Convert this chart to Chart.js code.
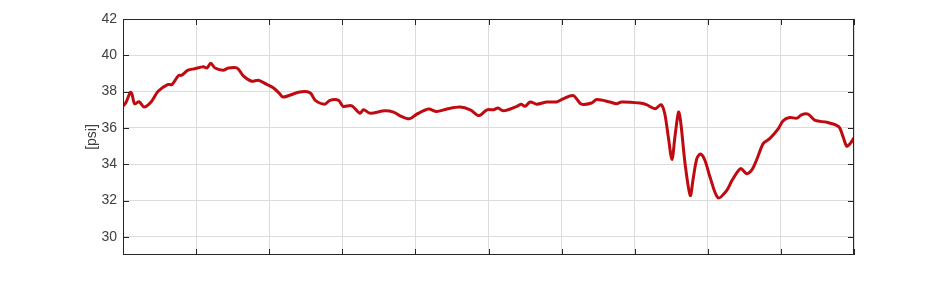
<!DOCTYPE html>
<html lang="en">
<head>
    <meta charset="UTF-8">
    <title>Pressure</title>
    <style>
        * { margin: 0; padding: 0; box-sizing: border-box; }
        body { background: #fff; width: 944px; height: 286px; overflow: hidden; }
        .chart-box { position: relative; width: 944px; height: 286px; }
    </style>
</head>
<body>
    <div class="chart-box">
        <canvas id="lineChart"></canvas>
    </div>

    <script src="https://cdn.jsdelivr.net/npm/chart.js"></script>

    <script>
        // Values (x in tenths of the axis, 0..100)
        const timeValues = [0, 0.4, 1.0, 1.2, 1.6, 2.2, 2.9, 3.9, 4.8, 6.1, 6.7, 7.6, 8.0, 8.9, 9.8, 11.0, 11.5, 12.0, 12.6, 13.7,
            14.4, 15.6, 16.5, 17.6, 18.5, 19.7, 20.6, 21.4, 21.9, 24.2, 25.6, 26.3, 27.6, 28.3, 29.5, 30.1, 31.3, 32.4, 32.9, 33.8,
            35.8, 37.0, 37.9, 39.2, 40.2, 41.8, 42.9, 44.3, 46.1, 47.5, 48.7, 49.8, 50.7, 51.3, 52.0, 53.9, 54.5, 55.0, 55.7, 56.6,
            58.0, 59.3, 60.2, 61.6, 62.7, 64.1, 64.8, 66.6, 67.5, 68.2, 70.7, 71.6, 72.8, 73.6, 74.1, 74.6, 75.1, 75.5, 76.0, 76.3,
            76.9, 77.6, 78.0, 78.5, 79.0, 79.6, 80.3, 81.4, 82.6, 83.3, 84.5, 85.3, 86.0, 86.7, 87.6, 88.5, 89.6, 90.3, 91.2, 92.2,
            92.8, 93.7, 94.7, 96.3, 97.9, 98.5, 99.0, 99.5, 100];
        const pressureValues = [37.2, 37.4, 37.96, 37.9, 37.33, 37.44, 37.15, 37.46, 38.02, 38.39, 38.39, 38.89, 38.9, 39.18, 39.26, 39.37, 39.3, 39.56, 39.3, 39.18,
            39.3, 39.3, 38.85, 38.57, 38.63, 38.39, 38.2, 37.9, 37.7, 37.98, 37.93, 37.52, 37.31, 37.52, 37.52, 37.19, 37.22, 36.81, 37.0, 36.81,
            36.94, 36.87, 36.67, 36.5, 36.76, 37.04, 36.9, 37.04, 37.15, 37.0, 36.68, 37.0, 37.0, 37.1, 36.94, 37.19, 37.31, 37.19, 37.43, 37.31,
            37.43, 37.43, 37.6, 37.78, 37.31, 37.37, 37.56, 37.43, 37.33, 37.43, 37.37, 37.28, 37.06, 37.28, 36.81, 35.5, 34.26, 35.5, 36.87, 36.3,
            34.0, 32.28, 33.2, 34.31, 34.56, 34.22, 33.3, 32.15, 32.56, 33.1, 33.76, 33.48, 33.67, 34.26, 35.15, 35.42, 35.93, 36.39, 36.57, 36.54,
            36.72, 36.76, 36.41, 36.31, 36.07, 35.52, 35.0, 35.15, 35.45];
        const yTickLabels = [30, 32, 34, 36, 38, 40, 42];
        const xGridValues = [0, 10, 20, 30, 40, 50, 60, 70, 80, 90, 100];

        const axisColor = '#262626';
        const fontFamily = '"Liberation Sans", Arial, sans-serif';

        // box around the plot with inward tick marks
        const boxPlugin = {
            id: 'box',
            afterDraw(chart) {
                const ctx = chart.ctx;
                const a = chart.chartArea;
                const xs = chart.scales.x;
                const ys = chart.scales.y;
                const len = 6;
                ctx.save();
                ctx.strokeStyle = axisColor;
                ctx.lineWidth = 1;
                ctx.strokeRect(a.left + 0.5, a.top + 0.5, a.right - a.left - 1, a.bottom - a.top - 1);
                ctx.beginPath();
                xGridValues.forEach(v => {
                    const px = Math.round(xs.getPixelForValue(v)) + 0.5;
                    ctx.moveTo(px, a.bottom);
                    ctx.lineTo(px, a.bottom - len);
                    ctx.moveTo(px, a.top);
                    ctx.lineTo(px, a.top + len);
                });
                yTickLabels.forEach(v => {
                    const py = Math.round(ys.getPixelForValue(v)) + 0.5;
                    ctx.moveTo(a.left, py);
                    ctx.lineTo(a.left + len, py);
                    ctx.moveTo(a.right, py);
                    ctx.lineTo(a.right - len, py);
                });
                ctx.stroke();
                ctx.restore();
            }
        };

        const ctx = document.getElementById('lineChart').getContext('2d');
        new Chart(ctx, {
            type: 'line',
            data: {
                datasets: [{
                    data: timeValues.map((t, i) => ({ x: t, y: pressureValues[i] })),
                    borderColor: '#bf0a0f',
                    borderWidth: 3,
                    pointRadius: 0,
                    tension: 0.3,
                    fill: false
                }]
            },
            options: {
                responsive: true,
                maintainAspectRatio: false,
                animation: false,
                layout: { padding: { left: 82, right: 90, top: 19, bottom: 31 } },
                plugins: {
                    legend: { display: false },
                    tooltip: { enabled: false }
                },
                scales: {
                    x: {
                        type: 'linear',
                        min: 0,
                        max: 100,
                        afterBuildTicks: s => { s.ticks = xGridValues.map(v => ({ value: v })); },
                        afterFit: s => { s.height = 0; },
                        ticks: { display: false },
                        grid: { color: '#dcdcdc', drawTicks: false },
                        border: { display: false }
                    },
                    y: {
                        min: 29,
                        max: 42,
                        afterBuildTicks: s => { s.ticks = yTickLabels.map(v => ({ value: v })); },
                        afterFit: s => { s.width = 41; },
                        ticks: {
                            color: '#404040',
                            padding: 6,
                            font: { family: fontFamily, size: 14 }
                        },
                        title: {
                            display: true,
                            text: '[psi]',
                            color: '#404040',
                            padding: { top: 2, bottom: 0 },
                            font: { family: fontFamily, size: 14 }
                        },
                        grid: { color: '#dcdcdc', drawTicks: false },
                        border: { display: false }
                    }
                }
            },
            plugins: [boxPlugin]
        });
    </script>
</body>
</html>
